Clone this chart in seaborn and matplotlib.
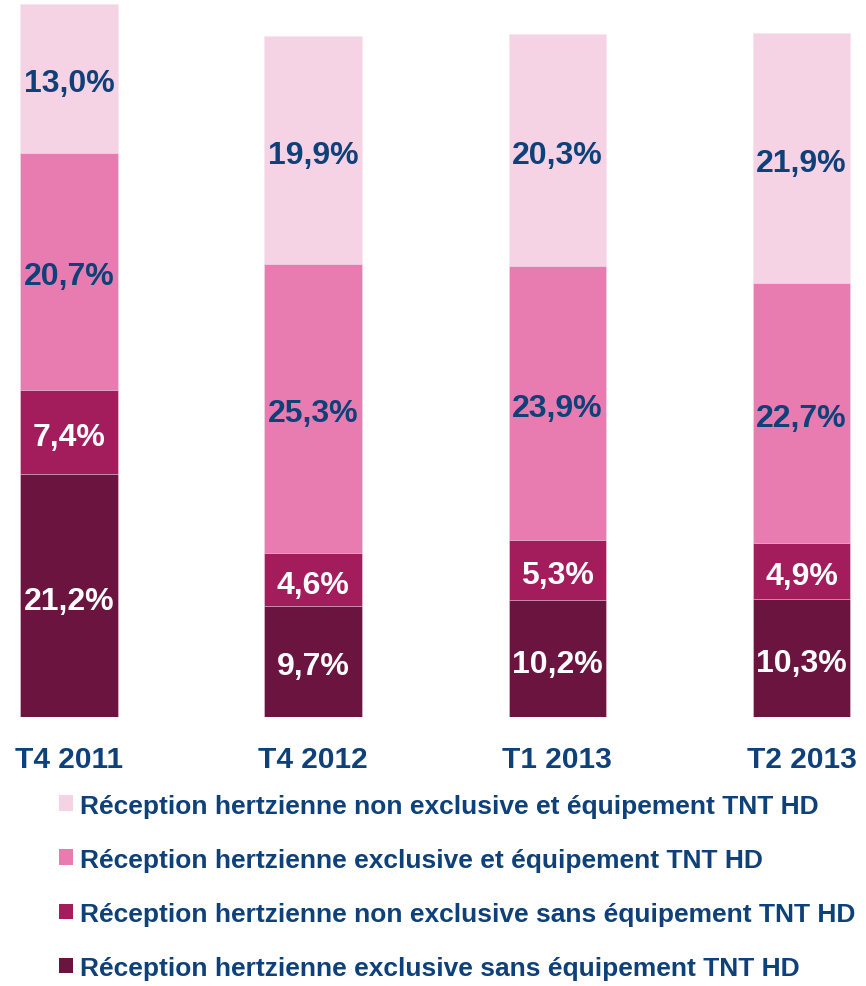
import matplotlib.pyplot as plt
import numpy as np
import pandas as pd
import seaborn as sns
from matplotlib.patches import Patch

periodes = ["T4 2011", "T4 2012", "T1 2013", "T2 2013"]
excl_sans = [21.2, 9.7, 10.2, 10.3]
non_excl_sans = [7.4, 4.6, 5.3, 4.9]
excl_hd = [20.7, 25.3, 23.9, 22.7]
non_excl_hd = [13.0, 19.9, 20.3, 21.9]

series = [
    "Réception hertzienne exclusive sans équipement TNT HD",
    "Réception hertzienne non exclusive sans équipement TNT HD",
    "Réception hertzienne exclusive et équipement TNT HD",
    "Réception hertzienne non exclusive et équipement TNT HD",
]
couleurs = ["#6B143F", "#A31C5C", "#E87CB0", "#F6D3E4"]
couleurs_texte = ["white", "white", "#0E4079", "#0E4079"]
navy = "#0E4079"

sns.set_style("white")
plt.rcParams["font.family"] = ["Liberation Sans", "DejaVu Sans"]

df = pd.DataFrame({
    "periode": periodes,
    series[0]: excl_sans,
    series[1]: non_excl_sans,
    series[2]: excl_hd,
    series[3]: non_excl_hd,
})

# cumuls pour empiler les barres (on trace du haut vers le bas)
cumul = df[series].cumsum(axis=1)

fig = plt.figure(figsize=(8.66, 9.87), dpi=100)
ax = fig.add_axes([0, 0.2725, 1, 0.7235])

for i in range(len(series) - 1, -1, -1):
    sns.barplot(x=df["periode"], y=cumul[series[i]], color=couleurs[i],
                width=0.4, ax=ax, saturation=1, edgecolor="#f3e6ec", linewidth=0.4)

# étiquettes de valeurs
for i, s in enumerate(series):
    bas = cumul[s] - df[s]
    for j, v in enumerate(df[s]):
        ax.annotate(f"{v:.1f}%".replace(".", ","), (j, bas[j] + v / 2),
                    xytext=(0, -3.5), textcoords="offset points",
                    ha="center", va="center", fontsize=23, fontweight="bold",
                    color=couleurs_texte[i])

ax.set_xlim(-0.283, 3.264)
ax.set_ylim(0, 62.4)
ax.set_xlabel("")
ax.set_ylabel("")
ax.set_yticks([])
ax.tick_params(axis="x", length=0, pad=20, labelsize=21.5, labelcolor=navy)
for lab in ax.get_xticklabels():
    lab.set_fontweight("bold")
sns.despine(ax=ax, left=True, bottom=True)

handles = [Patch(facecolor=couleurs[i], edgecolor="none") for i in range(3, -1, -1)]
labels = [series[i] for i in range(3, -1, -1)]
leg = fig.legend(handles, labels, loc="upper left", bbox_to_anchor=(0.068, 0.195),
                 frameon=False, fontsize=19, handlelength=0.53, handleheight=0.53,
                 handletextpad=0.27, labelspacing=1.14, borderaxespad=0, borderpad=0)
for t in leg.get_texts():
    t.set_color(navy)
    t.set_fontweight("bold")

fig.savefig("out.png", dpi=100)
